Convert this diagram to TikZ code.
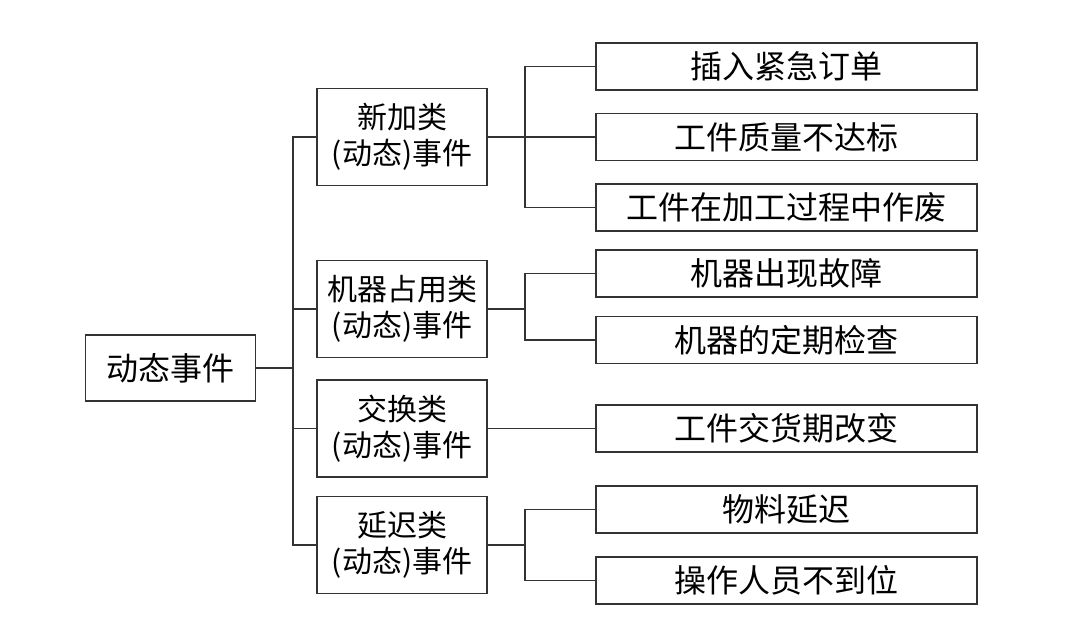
\documentclass[tikz,border=0pt]{standalone}
\usepackage{fontspec}
\setmainfont{Noto Sans CJK SC}
\usetikzlibrary{calc}

\begin{document}
\begin{tikzpicture}[x=0.75pt, y=-0.75pt,
		box/.style={draw=black!80, line width=0.9pt, inner sep=0pt, align=center},
		rootbox/.style={box, minimum width=170*0.75pt, minimum height=66*0.75pt, font=\fontsize{24}{28}\selectfont},
		groupbox/.style={box, minimum width=170*0.75pt, minimum height=97*0.75pt, font=\fontsize{22.5}{27}\selectfont},
		leafbox/.style={box, minimum width=381*0.75pt, minimum height=47*0.75pt, font=\fontsize{24}{28}\selectfont},
		link/.style={draw=black!80, line width=0.9pt}]
			%%%%% START %%%%%
			
			\useasboundingbox (0, 0) rectangle (1092, 620);
			
			\node[rootbox] (root) at (170.5, 368) {动态事件};
			
			\node[groupbox] (newev) at (402, 137) {新加类\\(动态)事件};
			\node[groupbox] (machev) at (402, 309) {机器占用类\\(动态)事件};
			\node[groupbox] (swapev) at (402, 428.5) {交换类\\(动态)事件};
			\node[groupbox] (delayev) at (402, 545) {延迟类\\(动态)事件};
			
			\node[leafbox] (urgent) at (786.5, 66.5) {插入紧急订单};
			\node[leafbox] (quality) at (786.5, 137) {工件质量不达标};
			\node[leafbox] (scrap) at (786.5, 207.5) {工件在加工过程中作废};
			\node[leafbox] (fault) at (786.5, 273.5) {机器出现故障};
			\node[leafbox] (check) at (786.5, 340) {机器的定期检查};
			\node[leafbox] (duedate) at (786.5, 428.5) {工件交货期改变};
			\node[leafbox] (material) at (786.5, 509.5) {物料延迟};
			\node[leafbox] (worker) at (786.5, 580.5) {操作人员不到位};
			
			\coordinate (trunk) at (293, 0);
			\coordinate (fork) at (525, 0);
			
			% root to the four groups
			\draw[link] (root.east) -- (root.east -| trunk);
			\draw[link] (newev.west) -- (newev.west -| trunk) -- (delayev.west -| trunk) -- (delayev.west);
			\draw[link] (machev.west) -- (machev.west -| trunk);
			\draw[link] (swapev.west) -- (swapev.west -| trunk);
			
			% groups to their events
			\draw[link] (newev.east) -- (newev.east -| fork);
			\draw[link] (urgent.west) -- (urgent.west -| fork) -- (scrap.west -| fork) -- (scrap.west);
			\draw[link] (quality.west) -- (quality.west -| fork);
			
			\draw[link] (machev.east) -- (machev.east -| fork);
			\draw[link] (fault.west) -- (fault.west -| fork) -- (check.west -| fork) -- (check.west);
			
			\draw[link] (swapev.east) -- (duedate.west);
			
			\draw[link] (delayev.east) -- (delayev.east -| fork);
			\draw[link] (material.west) -- (material.west -| fork) -- (worker.west -| fork) -- (worker.west);
			
			%%%%% END %%%%%
\end{tikzpicture}
\end{document}
